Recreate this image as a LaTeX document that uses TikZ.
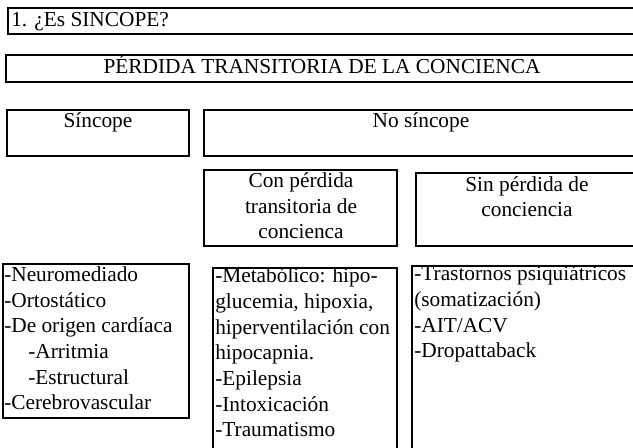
\documentclass[tikz,border=0pt]{standalone}
\usepackage{fontspec}
\setmainfont{Liberation Serif}
\usetikzlibrary{fit}
\begin{document}
\begin{tikzpicture}[x=0.75pt,y=-0.75pt,
  box/.style={draw, line width=1.4pt, inner sep=0pt},
  txt/.style={inner sep=0pt, font=\fontsize{16}{19.3}\selectfont},
  ctr/.style={txt, anchor=base, align=center},
  lft/.style={txt, anchor=base west, align=left},
]
\useasboundingbox (0,0) rectangle (633,448);
\clip (0,0) rectangle (633,448);
% boxes
\node[box, fit={(8,8) (640,34)}] (b1) {};
\node[box, fit={(6,55) (640,82)}] (b2) {};
\node[box, fit={(7,110) (189,156)}] (b3) {};
\node[box, fit={(204,110) (640,156)}] (b4) {};
\node[box, fit={(204,170) (397,246)}] (b5) {};
\node[box, fit={(416,173) (640,246)}] (b6) {};
\node[box, fit={(3,264) (189,418)}] (b7) {};
\node[box, fit={(213,268) (397,470)}] (b8) {};
\node[box, fit={(412,266) (640,470)}] (b9) {};
% texts (multi-line nodes: base = last line)
\node[txt, anchor=base west] (t1) at (11,27) {1. ¿Es SINCOPE?};
\node[txt, anchor=base] (t2) at (322,74) {PÉRDIDA TRANSITORIA DE LA CONCIENCA};
\node[txt, anchor=base] (t3) at (98,128) {Síncope};
\node[txt, anchor=base] (t4) at (421,128) {No síncope};
\node[ctr] (t5) at (301,239) {Con pérdida\\transitoria de\\concienca};
\node[ctr] (t6) at (527,217) {Sin pérdida de\\conciencia};
\node[lft] (t7) at (4,410) {-Neuromediado\\-Ortostático\\-De origen cardíaca\\\hspace*{18pt}-Arritmia\\\hspace*{18pt}-Estructural\\-Cerebrovascular};
\node[lft] (t8) at (215,437) {-Metabólico: hipo-\\glucemia, hipoxia,\\hiperventilación con\\hipocapnia.\\-Epilepsia\\-Intoxicación\\-Traumatismo};
\node[lft] (t9) at (414,358) {-Trastornos psiquiátricos\\(somatización)\\-AIT/ACV\\-Dropattaback};
\end{tikzpicture}
\end{document}
